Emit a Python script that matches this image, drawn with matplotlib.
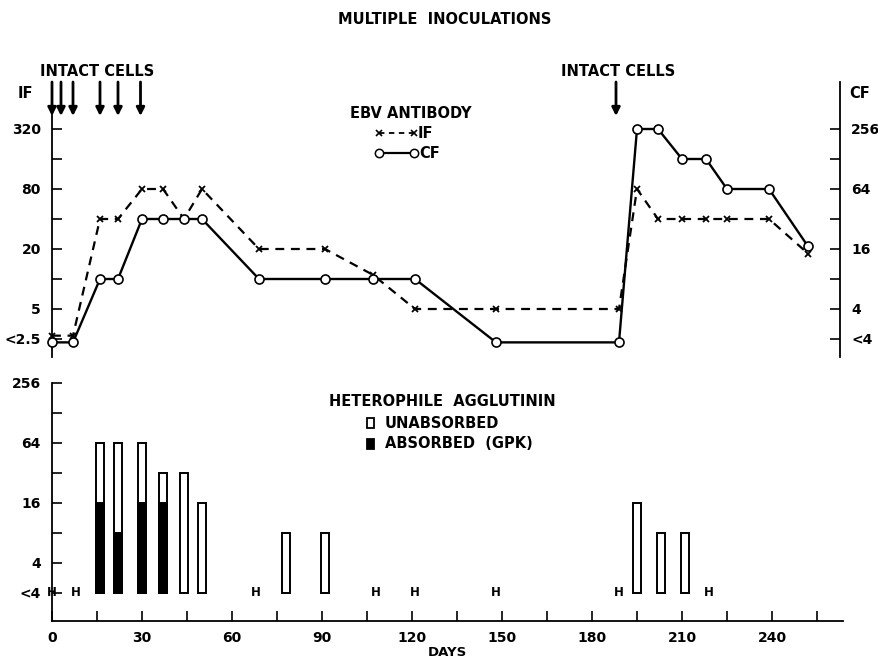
import matplotlib
matplotlib.use("Agg")
import matplotlib.pyplot as plt
from matplotlib.lines import Line2D
from matplotlib.patches import Rectangle

plt.rcParams['font.family'] = ['DejaVu Sans']
plt.rcParams['font.weight'] = 'bold'

# ---------------- data ----------------
days = [0, 7, 16, 22, 30, 37, 44, 50, 69, 91, 107, 121, 148, 189,
        195, 202, 210, 218, 225, 239, 252]
if_titer = [2.7, 2.7, 40, 40, 80, 80, 40, 80, 20, 20, 11, 5, 5, 5,
            80, 40, 40, 40, 40, 40, 18]
cf_titer = [1.85, 1.85, 8, 8, 32, 32, 32, 32, 8, 8, 8, 8, 1.85, 1.85,
            256, 256, 128, 128, 64, 64, 17]

inoc_days_left = [0, 3, 7, 16, 22, 29.5]
inoc_days_right = [188]

if_ticks = [320, 160, 80, 40, 20, 10, 5, 2.5]
if_ticklabels = ['320', '', '80', '', '20', '', '5', '<2.5']
cf_ticks = [256, 128, 64, 32, 16, 8, 4, 2]
cf_ticklabels = ['256', '', '64', '', '16', '', '4', '<4']

het_days = [16, 22, 30, 37, 44, 50, 78, 91, 195, 203, 211]
het_unabsorbed = [64, 64, 64, 32, 32, 16, 8, 8, 16, 8, 8]
het_absorbed = [16, 8, 16, 16, None, None, None, None, None, None, None]
het_neg_days = [0, 8, 68, 108, 121, 148, 189, 219]
het_ticks = [256, 128, 64, 32, 16, 8, 4, 2]
het_ticklabels = ['256', '', '64', '', '16', '', '4', '<4']

xticks = list(range(0, 256, 15))
xticklabels = [str(d) if d % 30 == 0 else '' for d in xticks]

# ---------------- figure ----------------
W, H = 879, 660
fig = plt.figure(figsize=(W / 100, H / 100), dpi=100)
TS = 10     # tick label size
LS = 10.5   # annotation text size


def fx(px):
    return px / W


def fy(py):
    return 1 - py / H


# top axes (pixel box)
L, R_top, T_top, B_top = 52, 840, 82, 357
ax = fig.add_axes([fx(L), fy(B_top), fx(R_top - L), (B_top - T_top) / H])
ppd = 3.0  # pixels per day
ax.set_xlim(0, (R_top - L) / ppd)
ax.set_yscale('log', base=2)
y320 = 129
ax.set_ylim(320 * 2 ** (-(B_top - y320) / 30), 320 * 2 ** ((y320 - T_top) / 30))
ax2 = ax.twinx()
ax2.set_yscale('log', base=2)
lo, hi = ax.get_ylim()
ax2.set_ylim(lo * 0.8, hi * 0.8)

ax.plot(days, if_titer, color='black', lw=1.6, dashes=(4, 3),
        marker='x', ms=5, mew=1.3, clip_on=False, zorder=3)
ax2.plot(days, cf_titer, color='black', lw=1.7, marker='o', ms=6.5,
         mfc='white', mec='black', mew=1.2, clip_on=False, zorder=4)

for a in (ax, ax2):
    a.spines['top'].set_visible(False)
    a.spines['bottom'].set_visible(False)
    a.tick_params(axis='x', which='both', bottom=False, labelbottom=False)
    a.yaxis.set_minor_locator(matplotlib.ticker.NullLocator())
ax.spines['right'].set_visible(False)
ax2.spines['left'].set_visible(False)
ax.spines['left'].set_bounds(lo, 320 * 2 ** ((y320 - 113) / 30))
ax.spines['left'].set_linewidth(1.3)
ax2.spines['right'].set_linewidth(1.3)

ax.set_yticks(if_ticks)
ax.set_yticklabels(if_ticklabels)
ax.tick_params(axis='y', direction='in', length=7, width=1.2, pad=8,
               labelsize=TS)
ax2.set_yticks(cf_ticks)
ax2.set_yticklabels(cf_ticklabels)
ax2.tick_params(axis='y', direction='in', length=7, width=1.2, pad=8,
                labelsize=TS)

# arrows for inoculations
for d in inoc_days_left + inoc_days_right:
    ax.annotate('', xy=(d, fy(116)), xytext=(d, fy(82)),
                xycoords=('data', 'figure fraction'),
                textcoords=('data', 'figure fraction'),
                arrowprops=dict(arrowstyle='-|>', lw=2, color='black',
                                mutation_scale=12, shrinkA=0, shrinkB=0),
                annotation_clip=False)

fig.text(fx(97), fy(72), 'INTACT CELLS', ha='center', va='center', fontsize=LS)
fig.text(fx(618), fy(72), 'INTACT CELLS', ha='center', va='center', fontsize=LS)
fig.text(fx(25), fy(94), 'IF', ha='center', va='center', fontsize=LS)
fig.text(fx(860), fy(94), 'CF', ha='center', va='center', fontsize=LS)
fig.text(fx(445), fy(20), 'MULTIPLE  INOCULATIONS', ha='center', va='center',
         fontsize=LS)

# EBV legend
fig.text(fx(411), fy(113), 'EBV ANTIBODY', ha='center', va='center', fontsize=LS)
leg_if = Line2D([fx(379), fx(414)], [fy(133), fy(133)], transform=fig.transFigure,
                color='black', lw=1.3, dashes=(3, 2.5), marker='x', ms=5, mew=1.2)
leg_cf = Line2D([fx(379), fx(414)], [fy(153), fy(153)], transform=fig.transFigure,
                color='black', lw=1.6, marker='o', ms=6, mfc='white', mec='black',
                mew=1.1)
fig.add_artist(leg_if)
fig.add_artist(leg_cf)
fig.text(fx(418), fy(133), 'IF', ha='left', va='center', fontsize=LS)
fig.text(fx(419), fy(153), 'CF', ha='left', va='center', fontsize=LS)

# ---------------- bottom axes ----------------
R_bot, T_bot, B_bot = 843, 383, 621
bx = fig.add_axes([fx(L), fy(B_bot), fx(R_bot - L), (B_bot - T_bot) / H])
bx.set_xlim(0, (R_bot - L) / ppd)
bx.set_yscale('log', base=2)
bx.set_ylim(256 * 2 ** (-(B_bot - T_bot) / 30), 256)

base = 2
bar_w = 2.6
for d, u, a in zip(het_days, het_unabsorbed, het_absorbed):
    bx.bar(d, u - base, bottom=base, width=bar_w, facecolor='white',
           edgecolor='black', lw=1.4, zorder=2)
    if a is not None:
        bx.bar(d, a - base, bottom=base, width=bar_w, facecolor='black',
               edgecolor='black', lw=1.4, zorder=3)
for d in het_neg_days:
    bx.text(d, base, 'H', ha='center', va='center', fontsize=8.5,
            fontweight='bold', clip_on=False, zorder=4)

bx.spines['top'].set_visible(False)
bx.spines['right'].set_visible(False)
bx.spines['left'].set_linewidth(1.3)
bx.spines['bottom'].set_linewidth(1.3)
bx.yaxis.set_minor_locator(matplotlib.ticker.NullLocator())
bx.set_yticks(het_ticks)
bx.set_yticklabels(het_ticklabels)
bx.tick_params(axis='y', direction='in', length=7, width=1.2, pad=8,
               labelsize=TS)
bx.set_xticks(xticks)
bx.set_xticklabels(xticklabels)
bx.tick_params(axis='x', direction='in', length=7, width=1.2, pad=7,
               labelsize=TS)
fig.text(fx(447), fy(653), 'DAYS', ha='center', va='center', fontsize=9.5)

# heterophile legend
fig.text(fx(442), fy(402), 'HETEROPHILE  AGGLUTININ', ha='center', va='center',
         fontsize=LS)
fig.add_artist(Rectangle((fx(367), fy(428)), fx(7), 10 / H, transform=fig.transFigure,
                         facecolor='white', edgecolor='black', lw=1.3))
fig.add_artist(Rectangle((fx(367), fy(449)), fx(7), 10 / H, transform=fig.transFigure,
                         facecolor='black', edgecolor='black', lw=1.3))
fig.text(fx(385), fy(423), 'UNABSORBED', ha='left', va='center', fontsize=LS)
fig.text(fx(385), fy(444), 'ABSORBED  (GPK)', ha='left', va='center', fontsize=LS)

fig.savefig('out.png', dpi=100, facecolor='white')
